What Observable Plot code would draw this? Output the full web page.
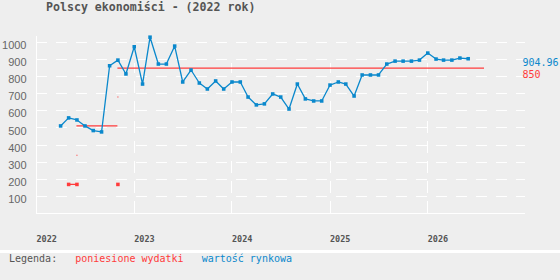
<!DOCTYPE html>
<html><head><meta charset="utf-8">
<script src="https://cdn.jsdelivr.net/npm/d3@7"></script>
<script src="https://cdn.jsdelivr.net/npm/@observablehq/plot@0.6"></script>
<style>
html,body{margin:0;padding:0;background:#fff;}
#wrap{width:560px;background:#eee;}
#title{height:24px;line-height:24px;padding-left:46px;font:bold 11.6px "DejaVu Sans Mono",monospace;color:#555;}
#sep{width:560px;height:3px;background:#fff;}
#legend{width:560px;height:27px;line-height:27px;background:#eee;padding-left:9px;box-sizing:border-box;font:10px "DejaVu Sans Mono",monospace;white-space:pre;color:#555;}
svg{display:block;}
</style></head><body>
<div id="wrap"><div id="title">Polscy ekonomiści - (2022 rok)</div><div id="chart"></div></div>
<div id="sep"></div>
<div id="legend">Legenda:   <span style="color:#ff3b3b">poniesione wydatki</span>   <span style="color:#0a88cc">wartość rynkowa</span></div>
<script>
// market value series (monthly)
const months = [
 "2022-04","2022-05","2022-06","2022-07","2022-08","2022-09","2022-10","2022-11","2022-12",
 "2023-01","2023-02","2023-03","2023-04","2023-05","2023-06","2023-07","2023-08","2023-09","2023-10","2023-11","2023-12",
 "2024-01","2024-02","2024-03","2024-04","2024-05","2024-06","2024-07","2024-08","2024-09","2024-10","2024-11","2024-12",
 "2025-01","2025-02","2025-03","2025-04","2025-05","2025-06","2025-07","2025-08","2025-09","2025-10","2025-11","2025-12",
 "2026-01","2026-02","2026-03","2026-04","2026-05","2026-06"];
const marketValue = [
 512,559,547,512,485,477,864,897,816,
 975,757,1031,874,874,979,769,839,763,728,775,728,
 769,769,681,635,641,699,681,611,757,670,658,658,
 751,769,757,687,810,810,810,874,891,891,891,897,
 938,903,897,897,909,904.96];

// incurred expenses
const costPointDates = ["2022-05","2022-06","2022-11"];
const costPointValues = [170,170,170];
const costPointGroups = ["a","a","b"];
const costLevelStart = ["2022-06","2022-11"];
const costLevelEnd = ["2022-11","2026-08"];
const costLevelValue = [512,850];
const costMidDates = ["2022-06","2022-11"];
const costMidValues = [341,681];

// axes
const yTicks = [100,200,300,400,500,600,700,800,900,1000];
const yearTicks = ["2022","2023","2024","2025","2026"];
const gridYears = ["2023","2024","2025","2026"];

// end labels
const endLabels = ["904.96","850"];
const endValues = [904.96,850];

const BLUE = "#0a88cc", RED = "#ff3b3b";
const P = s => d3.utcParse(s.length === 4 ? "%Y" : "%Y-%m")(s);

const market = months.map((m,i)=>({date:P(m), value:marketValue[i]}));
const costPts = costPointDates.map((m,i)=>({date:P(m), value:costPointValues[i], g:costPointGroups[i]}));
const costLevels = costLevelValue.map((v,i)=>({x1:P(costLevelStart[i]), x2:P(costLevelEnd[i]), value:v}));
const costMid = costMidDates.map((m,i)=>({date:P(m), value:costMidValues[i]}));

const chart = Plot.plot({
  width:560, height:226,
  marginLeft:36, marginRight:35, marginTop:12, marginBottom:37,
  style:{background:"transparent", overflow:"visible"},
  x:{type:"utc", domain:[P("2022"), P("2027")]},
  y:{domain:[0,1035]},
  marks:[
    Plot.ruleY(yTicks, {stroke:"#fff", strokeDasharray:"11 9", shapeRendering:"crispEdges"}),
    Plot.ruleX(gridYears.map(P), {y1:0, y2:880, stroke:"#fff", strokeDasharray:"12 8", shapeRendering:"crispEdges"}),
    Plot.ruleX([P("2022")], {stroke:"#fff", shapeRendering:"crispEdges"}),
    Plot.ruleY([0], {stroke:"#fff", shapeRendering:"crispEdges"}),
    Plot.axisY({ticks:yTicks, tickFormat:d=>String(d), label:null, tickSize:0, tickPadding:10, fontSize:11, fontFamily:"Liberation Sans", color:"#666", dy:3}),
    Plot.axisX({ticks:yearTicks.map(P), tickFormat:d3.utcFormat("%Y"), label:null, tickSize:0, tickPadding:22, textAnchor:"start",
      fontSize:8.5, fontWeight:"bold", fontFamily:"DejaVu Sans Mono", color:"#555"}),
    Plot.ruleY(costLevels, {y:"value", x1:"x1", x2:"x2", stroke:RED, strokeWidth:1.3}),
    Plot.line(costPts, {x:"date", y:"value", z:"g", stroke:RED, strokeWidth:1.3}),
    Plot.dot(costPts, {x:"date", y:"value", symbol:"square", r:2, fill:RED}),
    Plot.dot(costMid, {x:"date", y:"value", symbol:"square", r:0.6, fill:RED}),
    Plot.line(market, {x:"date", y:"value", stroke:BLUE, strokeWidth:1.3}),
    Plot.dot(market, {x:"date", y:"value", symbol:"square", r:2, fill:BLUE}),
    Plot.text([endLabels[0]], {y:[endValues[0]], text:d=>d, fill:BLUE, frameAnchor:"right", textAnchor:"start", dx:-3, dy:4.5,
      fontSize:10, fontFamily:"DejaVu Sans Mono"}),
    Plot.text([endLabels[1]], {y:[endValues[1]], text:d=>d, fill:RED, frameAnchor:"right", textAnchor:"start", dx:-3, dy:7,
      fontSize:10, fontFamily:"DejaVu Sans Mono"})
  ]
});
document.getElementById("chart").appendChild(chart);
</script>
</body></html>
